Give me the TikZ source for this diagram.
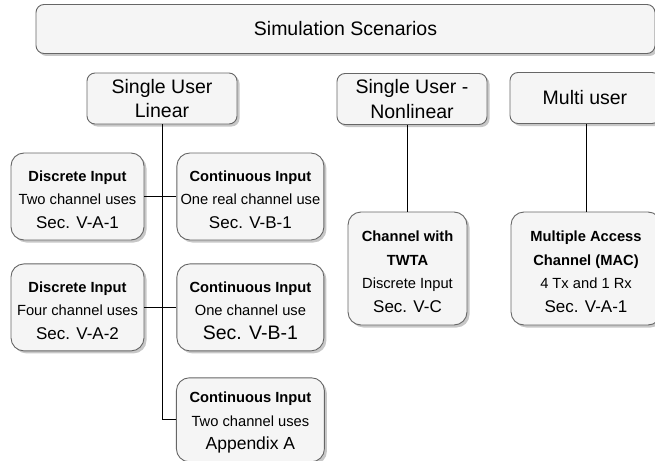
\documentclass[tikz,border=0pt]{standalone}
\usepackage{fontspec}
\setmainfont{Liberation Sans}
\usetikzlibrary{positioning,shadows}
\definecolor{boxfill}{HTML}{F5F5F5}
\definecolor{boxline}{HTML}{666666}
\tikzset{
  basebox/.style={draw=boxline, fill=boxfill, line width=0.9pt, align=center, inner sep=0pt,
    drop shadow={shadow xshift=2.5pt, shadow yshift=-2.5pt, fill=black, opacity=0.22}},
  scenbox/.style={basebox, rounded corners=8pt, font=\fontsize{19.5}{24.5}\selectfont},
  casebox/.style={basebox, rounded corners=13pt, font=\fontsize{14.7}{23.5}\selectfont},
  link/.style={draw=black, line width=1pt}
}
\newcommand{\casehead}[1]{\rule{0pt}{17pt}\textbf{#1}}
\newcommand{\secline}[1]{{\fontsize{17}{23.5}\selectfont #1}}

\begin{document}
\begin{tikzpicture}[x=1pt, y=-1pt]
  \path[use as bounding box, clip] (0,0) rectangle (655,460);
  \node[scenbox, minimum width=619pt, minimum height=49pt] (scen) at (345.5,29) {Simulation Scenarios};
  \node[scenbox, minimum width=150pt, minimum height=51pt] (sul) at (162,98.5) {Single User\\Linear};
  \node[scenbox, minimum width=150pt, minimum height=51pt] (sun) at (412,99) {Single User -\\Nonlinear};
  \node[scenbox, minimum width=150pt, minimum height=51pt] (mu) at (585,98) {Multi user};
  % single user linear cases
  \node[casebox, minimum width=133pt, minimum height=87pt] (di1) at (77.5,196.5)
    {\casehead{Discrete Input}\\Two channel uses\\\secline{Sec. V-A-1}};
  \node[casebox, minimum width=147pt, minimum height=87pt, right=32pt of di1] (ci1)
    {\casehead{Continuous Input}\\One real channel use\\\secline{Sec. V-B-1}};
  \node[casebox, minimum width=133pt, minimum height=87pt, below=23pt of di1] (di2)
    {\casehead{Discrete Input}\\Four channel uses\\\secline{Sec. V-A-2}};
  \node[casebox, minimum width=147pt, minimum height=87pt, below=23pt of ci1] (ci2)
    {\casehead{Continuous Input}\\One channel use\\{\fontsize{19.5}{23.5}\selectfont Sec. V-B-1}};
  \node[casebox, minimum width=148pt, minimum height=84pt, below=26pt of ci2] (ci3)
    {\casehead{Continuous Input}\\Two channel uses\\{\fontsize{17.5}{23.5}\selectfont Appendix A}};
  % nonlinear and multi user
  \node[casebox, minimum width=119pt, minimum height=113pt] (twta) at (407.5,268.5)
    {\casehead{Channel with}\\\textbf{TWTA}\\Discrete Input\\\secline{Sec. V-C}};
  \node[casebox, minimum width=150pt, minimum height=113pt] (mac) at (586,268.5)
    {\casehead{Multiple Access}\\\textbf{Channel (MAC)}\\4 Tx and 1 Rx\\\secline{Sec. V-A-1}};
  \draw[link] (sul.south) |- (ci3.west);
  \draw[link] (di1.east) -- (ci1.west);
  \draw[link] (di2.east) -- (ci2.west);
  \draw[link] (sun.south -| twta.north) -- (twta.north);
  \draw[link] (mu.south -| mac.north) -- (mac.north);
\end{tikzpicture}
\end{document}
